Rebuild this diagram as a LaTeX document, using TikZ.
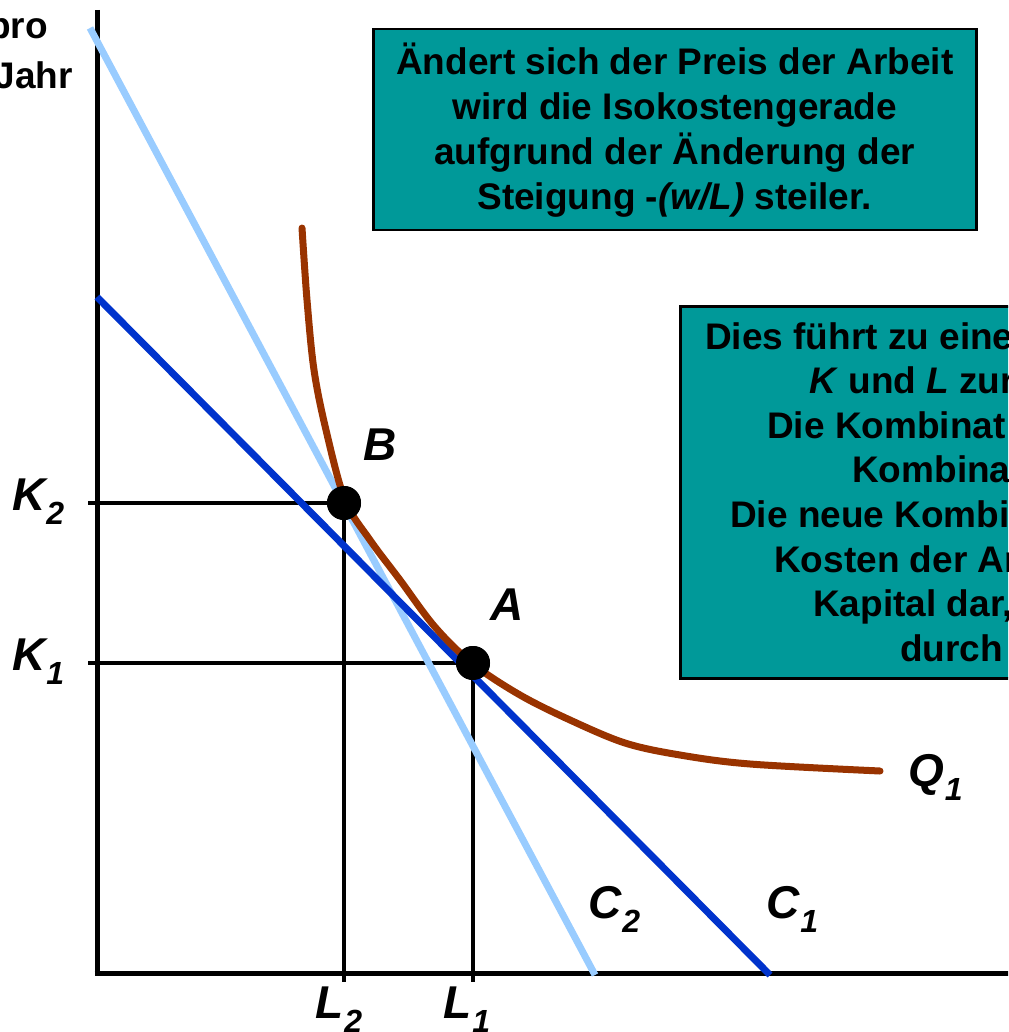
\documentclass[tikz,border=0pt]{standalone}
\usepackage{fontspec}
\setmainfont{Liberation Sans}
\definecolor{boxteal}{HTML}{009999}
\definecolor{lightiso}{HTML}{99CCFF}
\definecolor{darkiso}{HTML}{0033CC}
\definecolor{isoquant}{HTML}{993300}
\newcommand{\sublab}[2]{#1\kern1pt\raisebox{-14pt}{\fontsize{32}{32}\selectfont #2}}
\begin{document}
\begin{tikzpicture}[x=1pt,y=-1pt,
  boxtext/.style={font=\fontsize{37}{45}\selectfont\bfseries, inner sep=0pt, align=center},
  linetext/.style={font=\fontsize{37}{45}\selectfont\bfseries, inner sep=0pt, anchor=base west},
  infobox/.style={draw=black, line width=2.5pt, fill=boxteal},
  axisline/.style={line width=5pt},
  guideline/.style={line width=4pt},
  lab/.style={font=\fontsize{46}{46}\selectfont\bfseries\itshape, inner sep=0pt},
  toplab/.style={font=\fontsize{37}{37}\selectfont\bfseries, inner sep=0pt, anchor=base east},
  dot/.style={circle, fill=black, minimum size=34pt, inner sep=0pt}
]
\useasboundingbox (0,0) rectangle (1008,1032);
\clip (0,0) rectangle (1008,1032);
% axis labels top-left
\node[toplab] (pro) at (48,39) {pro};
\node[toplab] (jahr) at (73,89) {Jahr};
% axes
\coordinate (O) at (97,973);
\coordinate (ytop) at (97,10);
\coordinate (xend) at (1012,973);
\draw[axisline] (ytop) -- (97,975.5);
\draw[axisline] (94.5,973) -- (xend);
% points
\node[dot] (B) at (344,503) {};
\node[dot] (A) at (473,663) {};
\coordinate (K2) at (88,503);
\coordinate (K1) at (88,663);
\coordinate (L2) at (344,982);
\coordinate (L1) at (473,982);
\draw[guideline] (K2) -- (B.center) -- (L2);
\draw[guideline] (K1) -- (A.center) -- (L1);
% isocost lines
\coordinate (c2a) at (90,28);
\coordinate (c2b) at (595,975);
\coordinate (c1a) at (97,297);
\coordinate (c1b) at (770,975);
\draw[lightiso, line width=7pt] (c2a) -- (c2b);
\draw[darkiso, line width=7pt] (c1a) -- (c1b);
% isoquant
\draw[isoquant, line width=7pt, line cap=round, line join=round]
  plot[smooth, tension=0.55] coordinates {(302,228) (307,300) (314,370) (326,430) (345,500) (370,540) (400,580) (435,627) (473,664) (520,695) (570,720) (625,743) (680,755) (750,764) (880,771)};
% redraw dots on top
\node[dot] at (B.center) {};
\node[dot] at (A.center) {};
% labels
\node[lab] (labB) at (380,445) {B};
\node[lab] (labA) at (507,605) {A};
\node[lab, anchor=base west] (labK2) at (12,510) {\sublab{K}{2}};
\node[lab, anchor=base west] (labK1) at (12,670) {\sublab{K}{1}};
\node[lab, anchor=base west] (labL2) at (315,1018) {\sublab{L}{2}};
\node[lab, anchor=base west] (labL1) at (443,1018) {\sublab{L}{1}};
\node[lab, anchor=base west] (labC2) at (588,918) {\sublab{C}{2}};
\node[lab, anchor=base west] (labC1) at (766,918) {\sublab{C}{1}};
\node[lab, anchor=base west] (labQ1) at (908,786) {\sublab{Q}{1}};
% box 1
\node[infobox, minimum width=603pt, minimum height=201pt, anchor=north west] (box1) at (372,28) {};
\node[boxtext] (box1text) at (box1.center) {Ändert sich der Preis der Arbeit\\wird die Isokostengerade\\aufgrund der Änderung der\\Steigung -\textit{(w/L)} steiler.};
% box 2 (cut off at the right edge)
\node[infobox, minimum width=360pt, minimum height=372pt, anchor=north west] (box2) at (679,305) {};
\node[linetext] (b2l1) at (705,349) {Dies führt zu eine};
\node[linetext] (b2l2) at (809,393.6) {\textit{K} und \textit{L} zur};
\node[linetext] (b2l3) at (767,438.2) {Die Kombinat};
\node[linetext] (b2l4) at (852,482.8) {Kombina};
\node[linetext] (b2l5) at (730,527.4) {Die neue Kombi};
\node[linetext] (b2l6) at (774,572) {Kosten der Ar};
\node[linetext] (b2l7) at (813,616.6) {Kapital dar,};
\node[linetext] (b2l8) at (900,661.2) {durch};
\end{tikzpicture}
\end{document}
